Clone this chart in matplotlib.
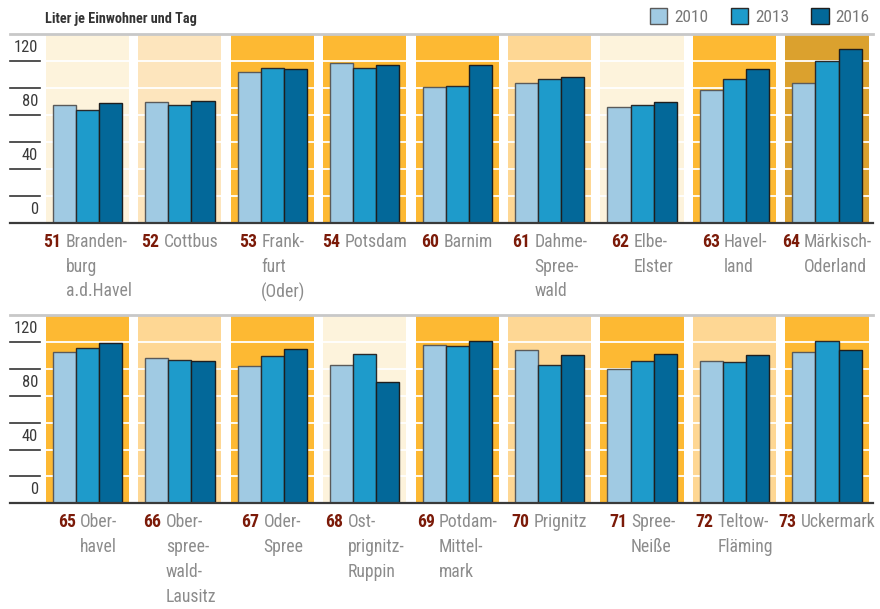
import matplotlib
matplotlib.use("Agg")
import matplotlib.pyplot as plt
from matplotlib.patches import Patch
from matplotlib.offsetbox import TextArea, HPacker, AnnotationBbox
from matplotlib.font_manager import FontProperties, fontManager
import matplotlib.transforms as mtransforms

## data (Liter je Einwohner und Tag)
years = ["2010", "2013", "2016"]

top_ids = ["51", "52", "53", "54", "60", "61", "62", "63", "64"]
top_names = ["Branden-\nburg\na.d.Havel", "Cottbus", "Frank-\nfurt\n(Oder)", "Potsdam", "Barnim",
             "Dahme-\nSpree-\nwald", "Elbe-\nElster", "Havel-\nland", "Märkisch-\nOderland"]
top_2010 = [87.5, 89.4, 111.6, 118.7, 101.0, 103.5, 85.7, 98.5, 103.5]
top_2013 = [84.0, 87.2, 115.0, 114.6, 101.5, 106.9, 87.4, 106.4, 120.0]
top_2016 = [89.0, 90.4, 113.8, 116.8, 116.8, 108.1, 89.4, 114.3, 128.6]
top_bg = [0, 1, 3, 3, 3, 2, 0, 3, 4]

bot_ids = ["65", "66", "67", "68", "69", "70", "71", "72", "73"]
bot_names = ["Ober-\nhavel", "Ober-\nspree-\nwald-\nLausitz", "Oder-\nSpree", "Ost-\nprignitz-\nRuppin",
             "Potdam-\nMittel-\nmark", "Prignitz", "Spree-\nNeiße", "Teltow-\nFläming", "Uckermark"]
bot_2010 = [112.8, 107.9, 101.9, 102.8, 117.6, 114.3, 99.9, 105.6, 112.8]
bot_2013 = [115.6, 106.4, 109.4, 110.9, 116.9, 102.8, 106.1, 105.1, 120.8]
bot_2016 = [119.3, 105.6, 114.6, 89.9, 120.8, 110.3, 111.3, 110.6, 114.3]
bot_bg = [3, 2, 3, 0, 3, 2, 3, 2, 3]

## styles
bg_colors = ["#fdf3dc", "#fde5bd", "#fed794", "#fdb933", "#dba12e"]
bar_colors = ["#a0cae3", "#1e9bcb", "#036899"]
edge_colors = ["#5a5a5a", "#2a2a2a", "#1e1e1e"]
gridvals = [20, 40, 60, 80, 100, 120]
labelvals = [0, 40, 80, 120]
num_color = "#7b1a08"
name_color = "#8c8c8c"


## pick a narrow font if there is one
def find_font(bold=False):
    prefs = ["LiberationSansNarrow", "RobotoCondensed", "OpenSans_Condensed", "OpenSansCondensed",
             "DejaVuSansCondensed", "NotoSansCondensed", "NotoSans-Condensed"]
    files = [f.fname for f in fontManager.ttflist]
    for p in prefs:
        for fn in files:
            base = fn.split("/")[-1]
            if base.startswith(p) and (("Bold" in base) == bold) and "Italic" not in base \
                    and "Oblique" not in base and "Light" not in base:
                return fn
    return None


reg_file = find_font(False)
bold_file = find_font(True)


def fprop(size, bold=False):
    f = bold_file if bold else reg_file
    if f:
        return FontProperties(fname=f, size=size)
    return FontProperties(family="Roboto", size=size, weight="bold" if bold else "normal")


W, H = 880, 609
fig = plt.figure(figsize=(W / 100, H / 100), dpi=100)
renderer = fig.canvas.get_renderer()


def fit_size(s, target_px, bold=False, maxsize=14):
    t = fig.text(0, 0, s, fontproperties=fprop(10, bold))
    w = t.get_window_extent(renderer).width
    t.remove()
    return min(maxsize, 10 * target_px / w)


def line_step(size):
    # pixel step between lines for linespacing=1
    t1 = fig.text(0, 0, "Ag", fontproperties=fprop(size), linespacing=1.0)
    t2 = fig.text(0, 0, "Ag\nAg\nAg", fontproperties=fprop(size), linespacing=1.0)
    h1 = t1.get_window_extent(renderer).height
    h3 = t2.get_window_extent(renderer).height
    t1.remove()
    t2.remove()
    return (h3 - h1) / 2


name_size = fit_size("Märkisch-", 62) * 1.1
num_size = name_size
tick_size = fit_size("120", 21) * 1.15
leg_size = fit_size("2010", 32) * 1.05
title_size = fit_size("Liter je Einwohner und Tag", 152, True)
line_sp = 26.8 / line_step(name_size)


def draw_row(top_px, bot_px, ids, names, v10, v13, v16, bgs):
    ax = fig.add_axes([10 / W, 1 - bot_px / H, 863 / W, (bot_px - top_px) / H])
    n = len(ids)
    for i in range(n):
        ax.axvspan(i - 0.45, i + 0.45, color=bg_colors[bgs[i]], lw=0, zorder=0)
    for g in gridvals:
        for i in range(n):
            ax.plot([i - 0.45, i + 0.45], [g, g], color="white", lw=1.3, zorder=1)
    xs = list(range(n))
    w = 0.25
    for k, vals in enumerate([v10, v13, v16]):
        ax.bar([x + (k - 1) * w for x in xs], vals, width=w, color=bar_colors[k],
               edgecolor=edge_colors[k], linewidth=1.0, zorder=2)
    ax.set_xlim(-0.838, 8.498)
    ax.set_ylim(0, 140)
    ax.axis("off")
    trans = mtransforms.blended_transform_factory(ax.transAxes, ax.transData)
    # left tick marks
    for g in gridvals:
        ax.plot([0, 30 / 863], [g, g], color="#333333", lw=1.2, transform=trans, clip_on=False)
    for v in labelvals:
        ax.text(28 / 863, v + 10, str(v), transform=trans, ha="right", va="center",
                fontproperties=fprop(tick_size), color="#3a3a3a")
    # top line and baseline
    ax.plot([0, 1], [140, 140], color="#c8c8c8", lw=2, transform=trans, clip_on=False, zorder=3)
    ax.plot([0, 1], [0, 0], color="#3a3a3a", lw=1.6, transform=trans, clip_on=False, zorder=3)
    # category labels
    for i in range(n):
        num = TextArea(ids[i], textprops=dict(color=num_color, fontproperties=fprop(num_size, True)))
        nm = TextArea(names[i], textprops=dict(color=name_color, fontproperties=fprop(name_size),
                                               multialignment="left", linespacing=line_sp))
        box = HPacker(children=[num, nm], align="top", pad=0, sep=3)
        ab = AnnotationBbox(box, (i, 0), xycoords=("data", "axes fraction"),
                            xybox=(0, -7), boxcoords="offset points",
                            box_alignment=(0.5, 1), frameon=False)
        ax.add_artist(ab)
    return ax


draw_row(34, 223, top_ids, top_names, top_2010, top_2013, top_2016, top_bg)
draw_row(315, 503.3, bot_ids, bot_names, bot_2010, bot_2013, bot_2016, bot_bg)

fig.text(45 / W, 1 - 19 / H, "Liter je Einwohner und Tag", fontproperties=fprop(title_size, True),
         color="#333333", va="center")

handles = [Patch(facecolor=bar_colors[k], edgecolor=edge_colors[k], lw=1) for k in range(3)]
fig.legend(handles, years, ncol=3, frameon=False, loc="upper right", bbox_to_anchor=(1.006, 1.012),
           handlelength=1.0, handleheight=1.0, handletextpad=0.4, columnspacing=1.3,
           prop=fprop(leg_size), labelcolor="#777777")

fig.savefig("out.png", dpi=100)
